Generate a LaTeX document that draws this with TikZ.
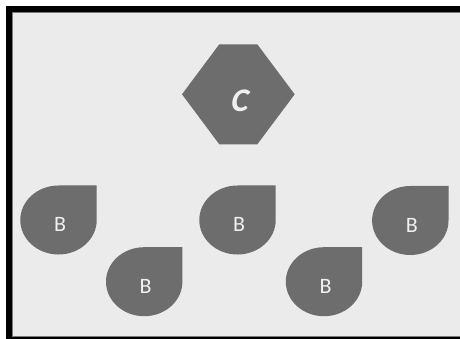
\documentclass[tikz,border=0pt]{standalone}
\usepackage{fontspec}
\setmainfont{Carlito}
\newfontfamily\cslant{Carlito}[FakeSlant=0.2]
\definecolor{bgfill}{HTML}{EBEBEB}
\definecolor{shapegray}{HTML}{6D6D6D}
\definecolor{txtcol}{HTML}{F0F0F0}
\definecolor{edgegray}{HTML}{7A7A7A}
\begin{document}
\begin{tikzpicture}[x=1pt,y=-1pt,
  bshape/.style={fill=shapegray,draw=none},
  blabel/.style={text=txtcol,inner sep=0pt,font=\fontsize{22}{26}\selectfont},
  clabel/.style={text=txtcol,inner sep=0pt,font=\cslant\fontsize{33}{38}\selectfont\bfseries}]
\useasboundingbox (0,0) rectangle (460,339);
\fill[white] (0,0) rectangle (460,339);
% frame
\fill[black] (6,6) rectangle (460,339);
\fill[edgegray] (12,12) rectangle (460,337.3);
\fill[bgfill] (13,13) rectangle (460,336.3);
% hexagon
\fill[shapegray] (219.3,44.3) -- (257.3,44.3) -- (294.7,94.3) -- (257.3,144.3) -- (219.3,144.3) -- (182,94.3) -- cycle;
\node[clabel] (c) at (238.5,101) {C};
% drops
\foreach \n/\cx/\cy in {b1/58.5/220, b2/144.2/281.7, b3/237.5/220, b4/324/281.7, b5/410.3/220.5}{
  \fill[bshape] (\cx,\cy-34.5) -- (\cx+38.2,\cy-34.5) -- (\cx+38.2,\cy)
     arc[start angle=0,end angle=270,x radius=38.2,y radius=34.5] -- cycle;
  \node[blabel] (\n) at (\cx+1.5,\cy+4.8) {B};
}
\end{tikzpicture}
\end{document}
